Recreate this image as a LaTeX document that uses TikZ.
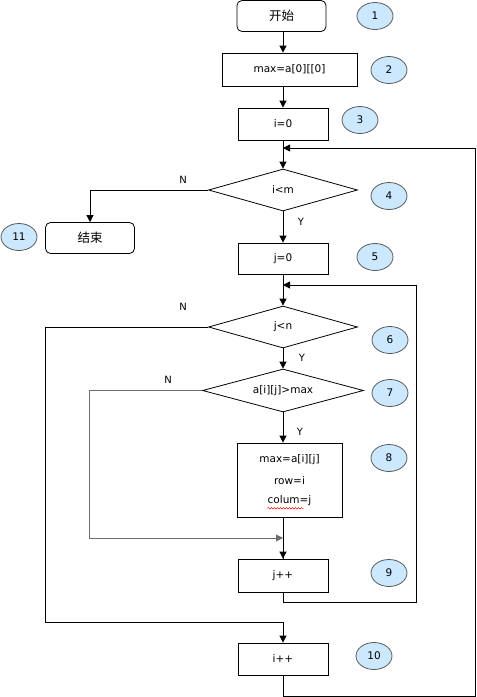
\documentclass[tikz,border=0pt]{standalone}
\usepackage{fontspec}
\setmainfont{DejaVu Sans}
\newfontfamily\cjk{Noto Sans CJK SC}
\usetikzlibrary{arrows.meta,shapes.geometric,decorations.pathmorphing}
\definecolor{ellfill}{RGB}{204,232,255}
\definecolor{ellline}{RGB}{90,90,90}
\definecolor{lgray}{RGB}{110,110,110}
\begin{document}
\begin{tikzpicture}[x=1pt,y=-1pt,
  box/.style={draw,line width=0.8pt,inner sep=0pt,font=\fontsize{10.5}{12}\selectfont},
  rbox/.style={box,rounded corners=5pt},
  dia/.style={draw,diamond,aspect=4,line width=0.8pt,inner sep=0pt,font=\fontsize{10.5}{12}\selectfont},
  num/.style={draw=ellline,fill=ellfill,ellipse,line width=0.8pt,inner sep=0pt,minimum width=36pt,minimum height=27pt,font=\fontsize{10.5}{12}\selectfont},
  lbl/.style={inner sep=0pt,font=\fontsize{10}{11}\selectfont},
  txt/.style={inner sep=0pt,font=\fontsize{10.5}{12}\selectfont},
  cn/.style={font=\cjk\fontsize{12.5}{14}\selectfont},
  arr/.style={line width=0.8pt,-{Triangle[length=7pt,width=7pt]}},
  ln/.style={line width=0.8pt}
]
\useasboundingbox (0,0) rectangle (477,697);
% boxes
\node[rbox, cn, minimum width=89pt, minimum height=31pt] (n1) at (281.5,16) {开始};
\node[box, minimum width=135pt, minimum height=33pt] (n2) at (289.5,69.5) {max=a[0][[0]};
\node[box, minimum width=90pt, minimum height=32pt] (n3) at (283,124) {i=0};
\node[dia, minimum width=149pt, minimum height=42pt] (d4) at (283,190) {i<m};
\node[rbox, cn, minimum width=89pt, minimum height=31pt] (end) at (90,238) {结束};
\node[box, minimum width=90pt, minimum height=31pt] (n5) at (283,258.5) {j=0};
\node[dia, minimum width=149pt, minimum height=42pt] (d6) at (283,327) {j<n};
\node[dia, minimum width=161pt, minimum height=43pt] (d7) at (283,390.5) {a[i][j]>max};
\node[box, minimum width=105pt, minimum height=74pt] (n8) at (289.5,480) {};
\node[txt] (l8a) at (289.5,460) {max=a[i][j]};
\node[txt] (l8b) at (289.5,481) {row=i};
\node[txt] (l8c) at (289.5,501) {colum=j};
\node[box, minimum width=90pt, minimum height=33pt] (n9) at (283,575.5) {j++};
\node[box, minimum width=90pt, minimum height=32pt] (n10) at (283,659) {i++};
% wavy underline
\draw[red, line width=0.5pt, decorate, decoration={snake,amplitude=0.8pt,segment length=3pt}]
  ([yshift=-2pt]l8c.south west) -- ([xshift=36pt,yshift=-2pt]l8c.south west);
% numbered ellipses
\node[num] (e1) at (375,16) {1};
\node[num] (e2) at (389,70) {2};
\node[num] (e3) at (360,120) {3};
\node[num] (e4) at (389,196) {4};
\node[num] (e5) at (375,257) {5};
\node[num] (e6) at (390,340) {6};
\node[num] (e7) at (390,393) {7};
\node[num] (e8) at (389,458) {8};
\node[num] (e9) at (389,573) {9};
\node[num] (e10) at (374,656) {10};
\node[num] (e11) at (19,237) {11};
% join coordinates
\coordinate (j4) at (283,148);
\coordinate (j6) at (283,285);
\coordinate (m9) at (283,538);
\coordinate (c6) at (45,622);
\coordinate (c7) at (89,538);
\coordinate (r9) at (416,285);
\coordinate (r10) at (475,148);
% connectors
\draw[arr] (n1.south -| n3) -- (n2.north -| n3);
\draw[arr] (n2.south -| n3) -- (n3.north);
\draw[arr] (n3.south) -- (d4.north);
\draw[arr] (d4.west) -| (end.north);
\node[lbl] (N4) at (183,180) {N};
\draw[arr] (d4.south) -- (n5.north);
\node[lbl] (Y4) at (301,222) {Y};
\draw[arr] (n5.south) -- (d6.north);
\draw[arr] (d6.south) -- (d7.north);
\node[lbl] (Y6) at (302,358) {Y};
\node[lbl] (N6) at (183,307) {N};
\draw[arr] (d7.south) -- (d7.south |- n8.north);
\node[lbl] (Y7) at (300,432) {Y};
\node[lbl] (N7) at (168,380) {N};
\draw[ln] (n8.south -| n9) -- (n9.north);
\draw[arr] (m9) -- (n9.north);
\draw[arr,draw=lgray] (d7.west) -| (c7) -- (m9);
\draw[arr] (d6.west) -| (c6) -| (n10.north);
\draw[arr] (n9.south) -- ++(0,9.5) -| (r9) -- (j6);
\draw[arr] (n10.south) -- ++(0,21) -| (r10) -- (j4);
\end{tikzpicture}
\end{document}
